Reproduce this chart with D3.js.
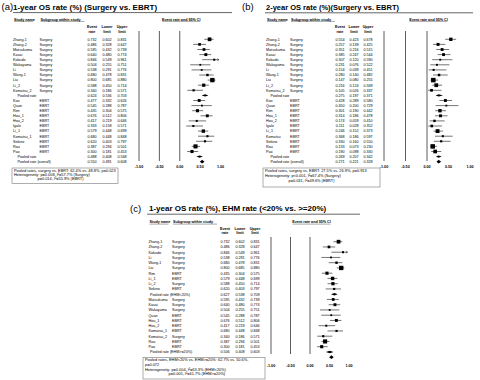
<!DOCTYPE html>
<html><head><meta charset="utf-8">
<script src="https://cdn.jsdelivr.net/npm/d3@7"></script>
<style>html,body{margin:0;padding:0;background:#fff}svg{display:block}</style>
</head><body>
<script>
// ---------- DATA ----------
const studiesA = ["Zhang-1","Zhang-2","Matsukuma","Kasai","Kokudo","Wakayama","Li","Wang-1","Liu","Li_2","Komatsu_2","Pooled rate","Koo","Quan","Rim","Hou_1","Hou_2","Igaki","Li_1","Komatsu_1","Sekino","Rou","Pao","Pooled rate","Pooled rate (overall)"];
const groupsA = ["Surgery","Surgery","Surgery","Surgery","Surgery","Surgery","Surgery","Surgery","Surgery","Surgery","Surgery","","EBRT","EBRT","EBRT","EBRT","EBRT","EBRT","EBRT","EBRT","EBRT","EBRT","EBRT","",""];
const rateA  = [0.732,0.486,0.595,0.640,0.846,0.504,0.538,0.680,0.800,0.588,0.340,0.624,0.477,0.545,0.435,0.676,0.417,0.333,0.579,0.680,0.620,0.387,0.300,0.488,0.550];
const lowerA = [0.602,0.328,0.432,0.480,0.549,0.255,0.291,0.478,0.685,0.450,0.186,0.536,0.332,0.288,0.304,0.512,0.219,0.158,0.448,0.448,0.403,0.294,0.181,0.408,0.491];
const upperA = [0.831,0.647,0.739,0.774,0.961,0.751,0.776,0.831,0.880,0.714,0.571,0.703,0.626,0.787,0.575,0.806,0.646,0.571,0.699,0.848,0.797,0.501,0.453,0.568,0.608];

const studiesB = ["Zhang-1","Zhang-2","Matsukuma","Kasai","Kokudo","Wakayama","Li","Wang-1","Liu","Li_2","Komatsu_2","Pooled rate","Koo","Quan","Rim","Hou_1","Hou_2","Igaki","Li_1","Komatsu","Sekino","Rou","Pao","Pooled rate","Pooled rate (overall)"];
const groupsB = groupsA.slice();
const rateB  = [0.554,0.257,0.351,0.385,0.307,0.231,0.154,0.280,0.147,0.216,0.105,0.275,0.428,0.450,0.301,0.314,0.174,0.111,0.246,0.368,0.330,0.133,0.190,0.269,0.271];
const lowerB = [0.423,0.139,0.216,0.247,0.120,0.076,0.039,0.140,0.080,0.124,0.026,0.197,0.289,0.200,0.190,0.186,0.059,0.028,0.152,0.186,0.160,0.073,0.098,0.207,0.221];
const upperB = [0.678,0.425,0.515,0.544,0.590,0.522,0.451,0.482,0.255,0.349,0.337,0.371,0.580,0.729,0.442,0.478,0.410,0.352,0.373,0.597,0.550,0.230,0.330,0.342,0.328];

const studiesC = ["Zhang-1","Zhang-2","Kokudo","Li","Wang-1","Liu","Rim","Li_1","Li_2","Sekino","Pooled rate (EHM<20%)","Matsukuma","Kasai","Wakayama","Quan","Hou_1","Hou_2","Komatsu_1","Komatsu_2","Rou","Pao","Pooled rate (EHM>=20%)","Pooled rate (overall)"];
const groupsC = ["Surgery","Surgery","Surgery","Surgery","Surgery","Surgery","EBRT","EBRT","Surgery","EBRT","","Surgery","Surgery","Surgery","EBRT","EBRT","EBRT","EBRT","Surgery","EBRT","EBRT","",""];
const rateC  = [0.732,0.486,0.846,0.538,0.680,0.800,0.435,0.579,0.588,0.620,0.627,0.595,0.640,0.504,0.545,0.676,0.417,0.680,0.340,0.387,0.300,0.506,0.550];
const lowerC = [0.602,0.328,0.549,0.291,0.478,0.685,0.304,0.448,0.450,0.403,0.538,0.432,0.480,0.255,0.288,0.512,0.219,0.448,0.186,0.294,0.181,0.408,0.491];
const upperC = [0.831,0.647,0.961,0.776,0.831,0.880,0.575,0.699,0.714,0.797,0.709,0.739,0.774,0.751,0.787,0.806,0.646,0.848,0.571,0.501,0.453,0.603,0.608];

const ticks = [-1, -0.5, 0, 0.5, 1];
const tickLabels = ["-1.00","-0.50","0.00","0.50","1.00"];

const boxA = ["Pooled rates, surgery vs. EBRT: 62.4% vs. 48.8%, p=0.023","Heterogeneity: p=0.008, I\u00b2=57.7% (Surgery)","p=0.014, I\u00b2=55.9% (EBRT)"];
const boxB = ["Pooled rates, surgery vs. EBRT: 27.5% vs. 26.9%, p=0.913","Heterogeneity: p<0.001, I\u00b2=67.4% (Surgery)","p=0.031, I\u00b2=49.6% (EBRT)"];
const boxC = ["Pooled rates, EHM<20% vs. EHM>=20%: 62.7% vs. 50.6%,","p=0.072","Heterogeneity: p=0.004, I\u00b2=63.3% (EHM<20%)","p=0.005, I\u00b2=61.7% (EHM>=20%)"];

// ---------- DRAW ----------
const svg = d3.select("body").append("svg").attr("width",480).attr("height",380)
  .style("font-family","'Liberation Sans', Arial, sans-serif");

function panel(cfg){
  const g = svg.append("g");
  const fs = 3.7;
  g.append("text").attr("x",cfg.tagX).attr("y",cfg.titleY+0.5).attr("font-size",9.5).text(cfg.tag);
  g.append("text").attr("x",cfg.titleX).attr("y",cfg.titleY).attr("font-size",cfg.titleFs).attr("font-weight","bold").text(cfg.title);
  g.append("line").attr("x1",cfg.ulX1).attr("x2",cfg.ulX2).attr("y1",cfg.ulY).attr("y2",cfg.ulY).attr("stroke","#555").attr("stroke-width",0.9);

  const x = d3.scaleLinear().domain([-1,1]).range(cfg.xRange);
  const y = d3.scaleLinear().domain([0,1]).range([cfg.row0, cfg.row0+cfg.rowStep]);

  const hdr = (tx, xx, w, anchor) => {
    g.append("text").attr("x",xx).attr("y",cfg.headY).attr("font-size",fs).attr("font-weight","bold").attr("text-anchor",anchor||"start").text(tx);
    const x0 = anchor==="middle" ? xx - w/2 : xx;
    g.append("line").attr("x1",x0).attr("x2",x0+w).attr("y1",cfg.headY+0.9).attr("y2",cfg.headY+0.9).attr("stroke","#000").attr("stroke-width",0.35);
  };
  hdr("Study name", cfg.nameX+1, 19);
  hdr("Subgroup within study", cfg.subX+1, 44);
  hdr("Event rate and 95% CI", x(0)+1.5, 38, "middle");
  [["Event","rate"],["Lower","limit"],["Upper","limit"]].forEach((p,i)=>{
    p.forEach((t,j)=>g.append("text").attr("x",cfg.colX[i]).attr("y",cfg.colHeadY+j*4.6)
      .attr("font-size",fs).attr("font-weight","bold").attr("text-anchor","middle").text(t));
  });

  [-1,-0.5,0].forEach(v=>g.append("line").attr("x1",x(v)).attr("x2",x(v))
     .attr("y1",cfg.vTop).attr("y2",cfg.vBottom).attr("stroke","#333").attr("stroke-width",0.8));

  g.selectAll(".tk").data(ticks).join("text").attr("x",d=>x(d)).attr("y",cfg.tickY)
    .attr("font-size",fs).attr("font-weight","bold").attr("text-anchor","middle").text((d,i)=>tickLabels[i]);

  const rows = cfg.names.map((n,i)=>({n, g:cfg.groups[i], r:cfg.rate[i], lo:cfg.lower[i], hi:cfg.upper[i], i}));
  rows.forEach(d=>{
    const yy = y(d.i);
    const pooled = d.n.startsWith("Pooled");
    const overall = d.n.includes("overall");
    if(!(cfg.hideOverallText && overall)){
      g.append("text").attr("x",cfg.nameX + (pooled?cfg.poolIndent:0)).attr("y",yy+1.3).attr("font-size",fs).text(d.n);
      if(d.g) g.append("text").attr("x",cfg.subX).attr("y",yy+1.3).attr("font-size",fs).text(d.g);
      [d.r,d.lo,d.hi].forEach((v,k)=>g.append("text").attr("x",cfg.colX[k]).attr("y",yy+1.3)
        .attr("font-size",fs).attr("text-anchor","middle").text(v.toFixed(3)));
    }
    if(pooled){
      const h = overall ? 1.9 : 1.2;
      g.append("path").attr("d",`M${x(d.lo)},${yy}L${x(d.r)},${yy-h}L${x(d.hi)},${yy}L${x(d.r)},${yy+h}Z`)
        .attr("fill","#000");
    } else {
      g.append("line").attr("x1",x(d.lo)).attr("x2",x(d.hi)).attr("y1",yy).attr("y2",yy)
        .attr("stroke","#000").attr("stroke-width",0.55);
      if(d.hi > 0.95){
        const xe = x(d.hi);
        g.append("path").attr("d",`M${xe-1.6},${yy-1}L${xe},${yy}L${xe-1.6},${yy+1}`)
          .attr("fill","none").attr("stroke","#000").attr("stroke-width",0.5);
      }
      const s = Math.max(1.8, Math.min(4.5, 0.85/(d.hi-d.lo)));
      g.append("rect").attr("x",x(d.r)-s/2).attr("y",yy-s/2).attr("width",s).attr("height",s).attr("fill","#000");
    }
  });

  const b = cfg.box;
  g.append("rect").attr("x",b.x).attr("y",b.y).attr("width",b.w).attr("height",b.h)
    .attr("fill","#fff").attr("stroke","#777").attr("stroke-width",0.6);
  cfg.boxText.forEach((t,k)=>{
    g.append("text").attr("x",b.x+2+(cfg.boxIndent[k]||0)).attr("y",b.y+3.8+k*b.ls)
      .attr("font-size",3.9).text(t);
  });
}

panel({tag:"(a)", tagX:1.5, title:"1-year OS rate (%) (Surgery vs. EBRT)", titleX:13, titleY:9.6, titleFs:8,
  ulX1:13, ulX2:232, ulY:12.6, nameX:13, subX:39.5, poolIndent:4.5, colX:[92,107,122],
  headY:20.5, colHeadY:28.3, row0:39.3, rowStep:5.1, xRange:[139,220.5], vTop:31, vBottom:161, tickY:168,
  names:studiesA, groups:groupsA, rate:rateA, lower:lowerA, upper:upperA,
  box:{x:12,y:168,w:106,h:15.5,ls:4.2}, boxText:boxA, boxIndent:[0,0,23.5]});

panel({tag:"(b)", tagX:242, title:"2-year OS rate (%)(Surgery vs. EBRT)", titleX:266, titleY:9.6, titleFs:7.5,
  ulX1:265, ulX2:473, ulY:12.8, nameX:266, subX:290, poolIndent:4.5, colX:[340,354,368],
  headY:20.5, colHeadY:28.3, row0:39.3, rowStep:5.1, xRange:[384,470], vTop:31, vBottom:161, tickY:168,
  names:studiesB, groups:groupsB, rate:rateB, lower:lowerB, upper:upperB,
  box:{x:263,y:168,w:117,h:19,ls:5}, boxText:boxB, boxIndent:[0,0,23.5]});

panel({tag:"(c)", tagX:130, title:"1-year OS rate (%), EHM rate (<20% vs. >=20%)", titleX:149, titleY:211, titleFs:8,
  ulX1:147, ulX2:360, ulY:214.2, nameX:148.5, subX:172, poolIndent:1.5, colX:[225,240,255],
  headY:223.2, colHeadY:229.5, row0:241.7, rowStep:5.25, xRange:[271,349], vTop:237, vBottom:354, tickY:367,
  hideOverallText:true,
  names:studiesC, groups:groupsC, rate:rateC, lower:lowerC, upper:upperC,
  box:{x:143,y:357.5,w:122,h:21.5,ls:4.6}, boxText:boxC, boxIndent:[0,0,0,23.5]});
</script>
</body></html>
